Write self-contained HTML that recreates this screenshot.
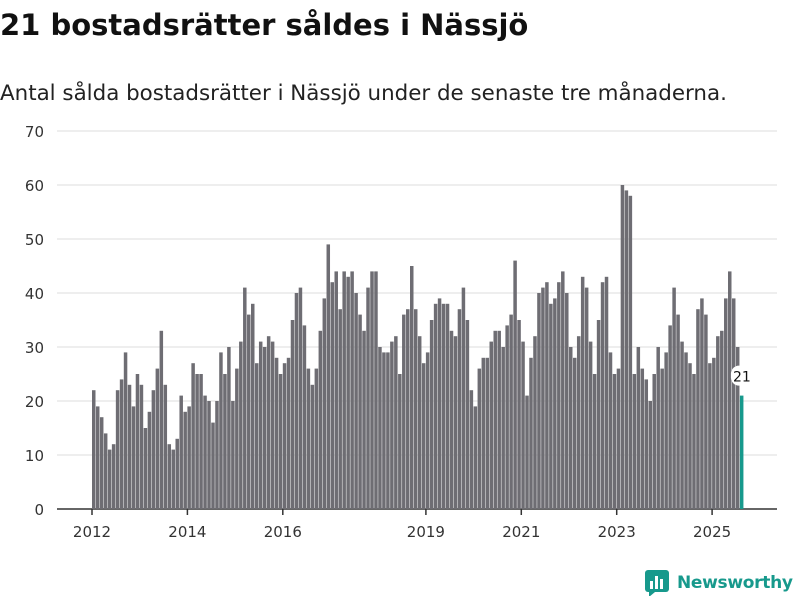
<!DOCTYPE html>
<html><head><meta charset="utf-8"><style>
body{margin:0;width:800px;height:600px;background:#fff;font-family:"DejaVu Sans",sans-serif;overflow:hidden}
#title{position:absolute;left:0;top:8px;font-size:29px;font-weight:bold;color:#111;margin:0;white-space:nowrap}
#sub{position:absolute;left:0;top:81px;font-size:21.4px;color:#222;white-space:nowrap}
svg{position:absolute;left:0;top:0}
</style></head><body>
<h1 id="title">21 bostadsrätter såldes i Nässjö</h1>
<div id="sub">Antal sålda bostadsrätter i Nässjö under de senaste tre månaderna.</div>
<svg id="chart" width="800" height="600"></svg>
<script>
const values=[22,19,17,14,11,12,22,24,29,23,19,25,
23,15,18,22,26,33,23,12,11,13,21,18,
19,27,25,25,21,20,16,20,29,25,30,20,
26,31,41,36,38,27,31,30,32,31,28,25,
27,28,35,40,41,34,26,23,26,33,39,49,
42,44,37,44,43,44,40,36,33,41,44,44,
30,29,29,31,32,25,36,37,45,37,32,27,
29,35,38,39,38,38,33,32,37,41,35,22,
19,26,28,28,31,33,33,30,34,36,46,35,
31,21,28,32,40,41,42,38,39,42,44,40,30,
28,32,43,41,31,25,35,42,43,29,25,26,
60,59,58,25,30,26,24,20,25,30,26,29,
34,41,36,31,29,27,25,37,39,36,27,28,
32,33,39,44,39,30,21];
const yTicks=[0,10,20,30,40,50,60,70];
const xTickLabels=["2012","2014","2016","2019","2021","2023","2025"];
const xTickIndex=[0,24,48,84,108,132,156];
const svg=document.getElementById('chart');
const NS='http://www.w3.org/2000/svg';
const y0=509,yTop=131,yMax=70;
const y=v=>y0-(v/yMax)*(y0-yTop);
const x0=92,step=3.975;
const x=i=>x0+i*step;
function mk(t,a){const e=document.createElementNS(NS,t);for(const k in a)e.setAttribute(k,a[k]);svg.appendChild(e);return e;}
yTicks.forEach(t=>{
 const g=mk('line',{x1:57,x2:777,y1:y(t),y2:y(t),stroke:t===0?'#333':'#ddd','stroke-width':t===0?1.5:1});
 
 
 const l=mk('text',{x:44,y:y(t)+6,'text-anchor':'end','font-size':15,fill:'#333'});
 l.textContent=t;
 
 
});
values.forEach((v,i)=>{
 const last=i===values.length-1;
 const r=mk('rect',{x:x(i),y:y(v),width:3.5,height:y0-y(v),fill:last?'#17998c':'#6e6d73'});
 
 
});
xTickIndex.forEach((idx,k)=>{
 const tk=mk('line',{x1:x(idx),x2:x(idx),y1:y0,y2:y0+6,stroke:'#333','stroke-width':1.5});
 
 
 const l=mk('text',{x:x(idx),y:537,'text-anchor':'middle','font-size':15,fill:'#333'});
 l.textContent=xTickLabels[k];
 
 
});
const li=values.length-1;
const bg=mk('rect',{x:x(li)-9,y:y(values[li])-30,width:22,height:20,rx:8,fill:'#fff'});


const lab=mk('text',{x:x(li)+2,y:y(values[li])-14,'text-anchor':'middle','font-size':14,fill:'#111'});
lab.textContent=values[li];


</script>
<div style="position:absolute;left:645px;top:570px;display:flex;align-items:center">
<svg width="24" height="26" style="position:static"><rect x="0" y="0" width="24" height="22" rx="3" fill="#17998c"/><polygon points="4,22 10,22 4,27" fill="#17998c"/><rect x="5" y="11" width="3" height="8" fill="#fff"/><rect x="10" y="6" width="3" height="13" fill="#fff"/><rect x="15" y="9" width="3" height="10" fill="#fff"/></svg>
<span style="margin-left:8px;font-size:17px;font-weight:bold;color:#17998c;letter-spacing:-0.3px">Newsworthy</span>
</div>
</body></html>
